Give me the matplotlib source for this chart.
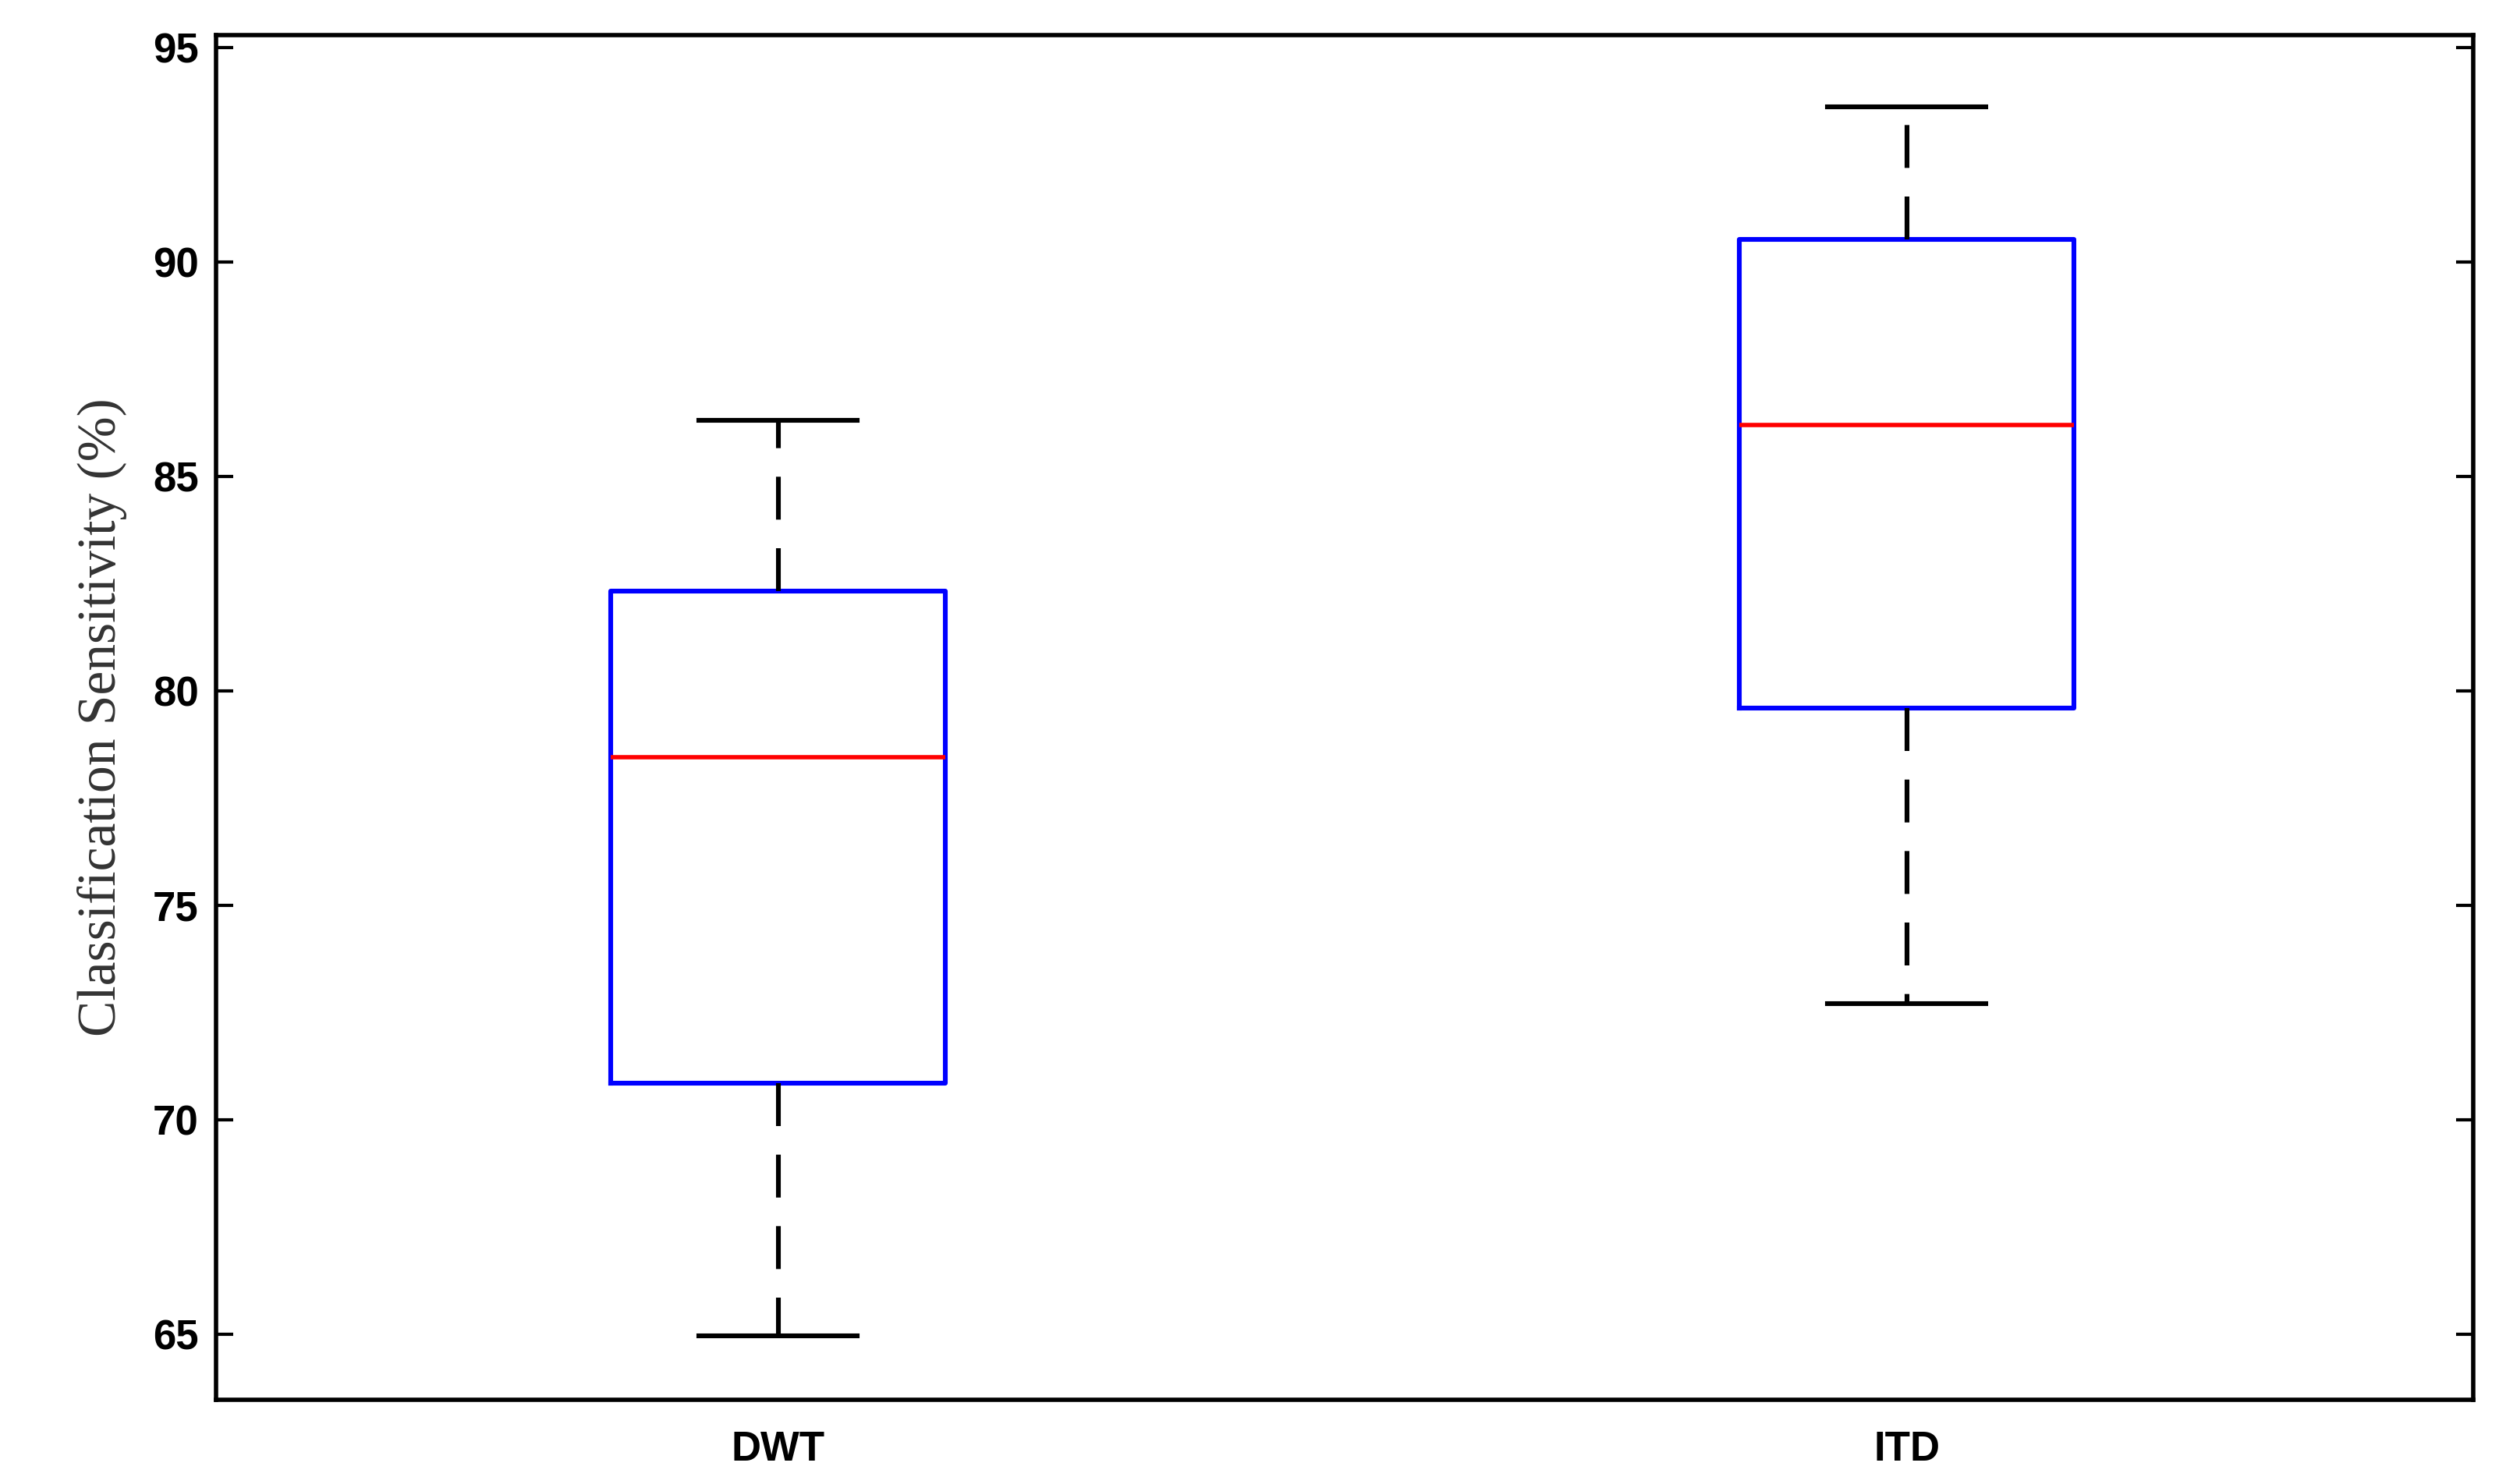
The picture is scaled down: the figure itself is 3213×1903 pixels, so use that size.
import matplotlib
matplotlib.use("Agg")
import matplotlib.pyplot as plt

categories = ["DWT", "ITD"]
whislo = [64.96, 72.71]
q1 = [70.85, 79.6]
med = [78.45, 86.2]
q3 = [82.33, 90.53]
whishi = [86.32, 93.62]

stats = [dict(label=c, whislo=a, q1=b, med=m, q3=d, whishi=e)
         for c, a, b, m, d, e in zip(categories, whislo, q1, med, q3, whishi)]

fig = plt.figure(figsize=(16.065, 9.515), dpi=200)
ax = fig.add_axes([277/3213, 1-1795/1903, (3171-277)/3213, (1795-45)/1903])
ax.bxp(stats, positions=[1, 2], widths=0.297, showfliers=False,
       boxprops=dict(color="blue", linewidth=2.2),
       medianprops=dict(color="red", linewidth=2),
       whiskerprops=dict(color="black", linewidth=2.2, linestyle=(0, (9, 6))),
       capprops=dict(color="black", linewidth=2.2),
       capwidths=0.14)
ax.set_xlim(0.502, 2.502)
ax.set_ylim(63.47, 95.3)
ax.set_yticks([65, 70, 75, 80, 85, 90, 95])
ax.tick_params(direction="in", right=True, top=False, length=8, width=1.5, labelsize=19, pad=8)
ax.tick_params(axis="x", length=0, pad=14)
for lab in ax.get_xticklabels() + ax.get_yticklabels():
    lab.set_family("Liberation Sans")
    lab.set_fontweight("semibold")
for s in ax.spines.values():
    s.set_linewidth(2)
ax.set_ylabel("Classification Sensitivity (%)", family="Liberation Serif", fontsize=25, color="#333333", labelpad=12)
fig.savefig("out.png", dpi=200)
